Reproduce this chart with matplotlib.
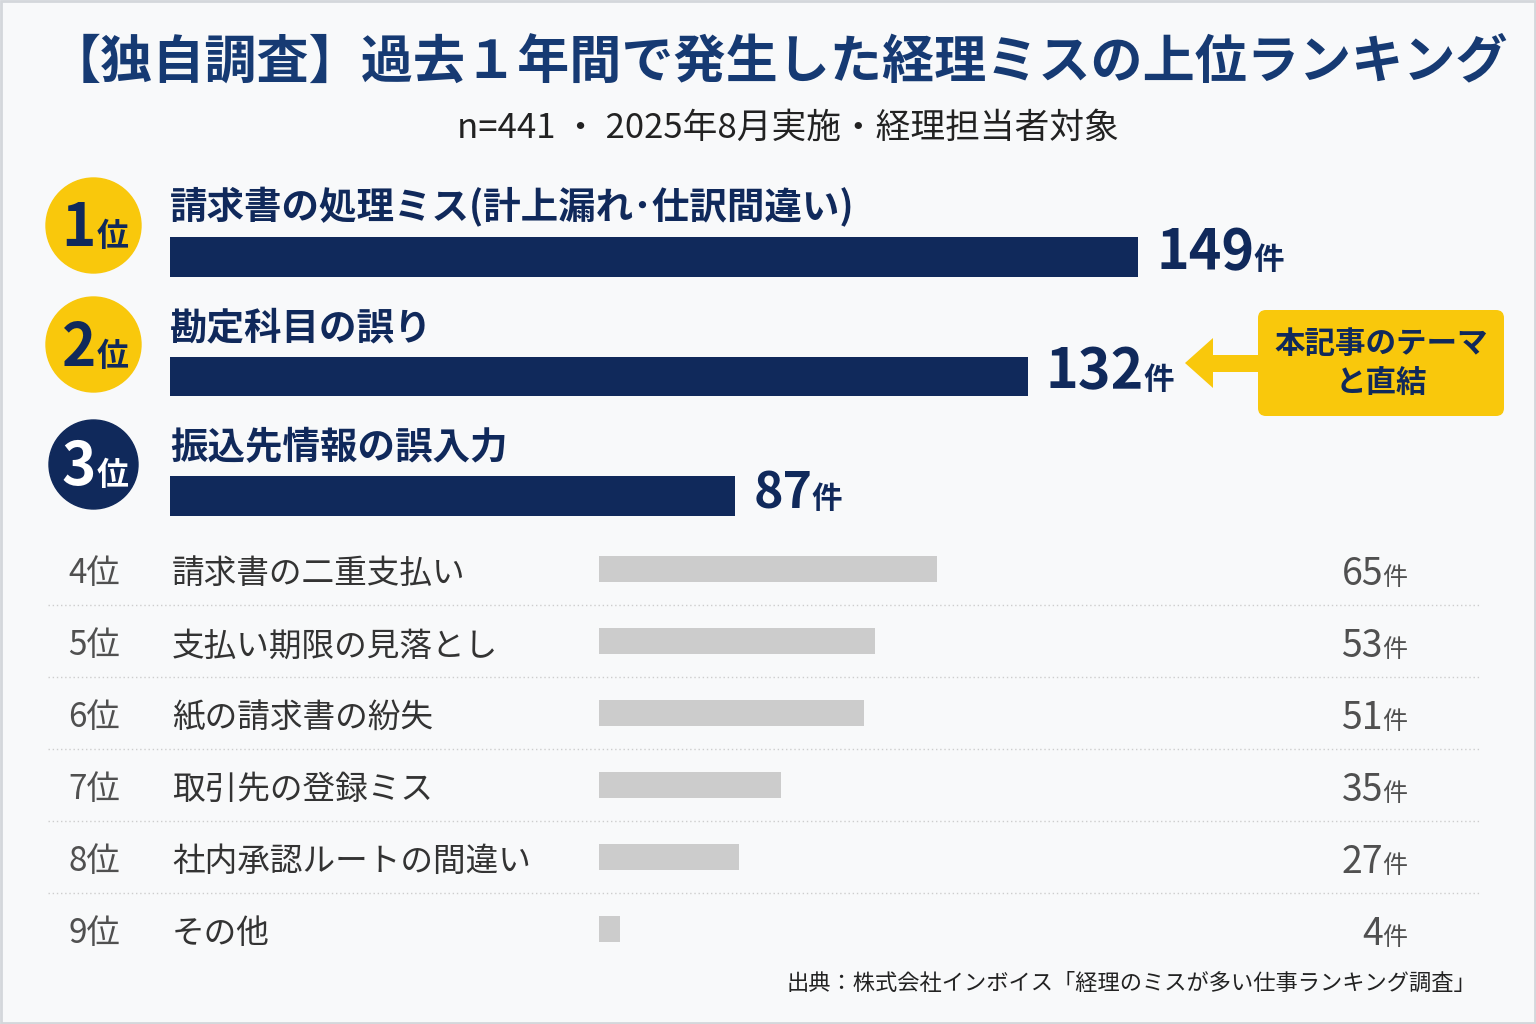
import matplotlib
matplotlib.use("Agg")
import matplotlib.pyplot as plt
from matplotlib import rcParams
from matplotlib.patches import FancyBboxPatch, Polygon, Rectangle
from matplotlib.transforms import blended_transform_factory

# 日本語フォント
rcParams['font.family'] = ['Noto Sans CJK JP', 'DejaVu Sans']

# データ
title = "【独自調査】過去１年間で発生した経理ミスの上位ランキング"
subtitle = "n=441 ・ 2025年8月実施・経理担当者対象"
source = "出典：株式会社インボイス「経理のミスが多い仕事ランキング調査」"
callout_text = "本記事のテーマ\nと直結"

top_ranks = ["1", "2", "3"]
top_labels = ["請求書の処理ミス(計上漏れ･仕訳間違い)", "勘定科目の誤り", "振込先情報の誤入力"]
top_values = [149, 132, 87]

rest_ranks = ["4", "5", "6", "7", "8", "9"]
rest_labels = ["請求書の二重支払い", "支払い期限の見落とし", "紙の請求書の紛失",
               "取引先の登録ミス", "社内承認ルートの間違い", "その他"]
rest_values = [65, 53, 51, 35, 27, 4]

# 色
BG = "#F8F9FA"
NAVY = "#10295B"
TITLE_NAVY = "#163A73"
YELLOW = "#F9C80C"
GREY_BAR = "#CCCCCC"
GREY_TXT = "#505050"

W, H = 1536, 1024
fig = plt.figure(figsize=(W / 100, H / 100), dpi=100)
fig.patch.set_facecolor(BG)

bg = fig.add_axes([0, 0, 1, 1])
bg.set_xlim(0, W)
bg.set_ylim(H, 0)
bg.axis("off")
bg.add_patch(Rectangle((1, 1), W - 2, H - 2, fill=False, edgecolor="#D4D7DB", lw=2))


def px_axes(x0, y0, x1, y1):
    ax = fig.add_axes([x0 / W, 1 - y1 / H, (x1 - x0) / W, (y1 - y0) / H])
    ax.axis("off")
    return ax


# タイトル
bg.text(778, 62, title, ha="center", va="center", fontsize=37.5, fontweight="bold", color=TITLE_NAVY)
bg.text(788, 128, subtitle, ha="center", va="center", fontsize=25, color="#222222")

# 上位3件
ax_top = px_axes(170, 197, 1278, 556)
ax_top.set_xlim(0, 170.5)
ax_top.set_ylim(2.5, -0.5)
ax_top.barh(range(len(top_values)), top_values, height=0.33, color=NAVY)
tr_top = blended_transform_factory(bg.transData, ax_top.transData)

big_sizes = [40, 40, 36]
for i, (rk, lab, v) in enumerate(zip(top_ranks, top_labels, top_values)):
    # ラベル
    bg.text(170, i - 0.31, lab, transform=tr_top, ha="left", va="baseline",
            fontsize=27, fontweight="bold", color=NAVY)
    # 順位バッジ
    fc = NAVY if i == 2 else YELLOW
    tc = "white" if i == 2 else NAVY
    d = 89 if i == 2 else 95
    bg.scatter([93], [i - 0.27], s=(d / 1.389) ** 2, color=fc, transform=tr_top, zorder=3)
    t = bg.text(96, i - 0.09, rk, transform=tr_top, ha="right", va="baseline",
                fontsize=42, fontweight="bold", color=tc, zorder=4)
    bg.annotate("位", xy=(1, i - 0.09), xycoords=(t, tr_top), xytext=(1, 0),
                textcoords="offset pixels", ha="left", va="baseline",
                fontsize=23, fontweight="bold", color=tc, zorder=4)
    # 件数
    num = ax_top.annotate(str(v), xy=(v, i), xytext=(18, -12), textcoords="offset pixels",
                          ha="left", va="baseline", fontsize=big_sizes[i],
                          fontweight="bold", color=NAVY, annotation_clip=False)
    ax_top.annotate("件", xy=(1, i), xycoords=(num, "data"), xytext=(-1, -12),
                    textcoords="offset pixels", ha="left", va="baseline",
                    fontsize=22, fontweight="bold", color=NAVY, annotation_clip=False)

# 吹き出し
bg.add_patch(FancyBboxPatch((1258, 310), 246, 106, boxstyle="round,pad=0,rounding_size=8",
                            fc=YELLOW, ec="none"))
bg.add_patch(Polygon([(1185, 363), (1213, 338), (1213, 355), (1260, 355),
                      (1260, 372), (1213, 372), (1213, 388)], closed=True, fc=YELLOW, ec="none"))
bg.text(1381, 364, callout_text, ha="center", va="center", fontsize=22, fontweight="bold",
        color=NAVY, linespacing=1.3)

# 4位以下
ax_bot = px_axes(599, 533, 1407, 965)
ax_bot.set_xlim(0, 155.4)
ax_bot.set_ylim(5.5, -0.5)
ax_bot.barh(range(len(rest_values)), rest_values, height=0.35, color=GREY_BAR)
tr_bot = blended_transform_factory(bg.transData, ax_bot.transData)

for k, (rk, lab, v) in enumerate(zip(rest_ranks, rest_labels, rest_values)):
    bg.text(68, k + 0.2, rk + "位", transform=tr_bot, ha="left", va="baseline",
            fontsize=24, color=GREY_TXT)
    bg.text(172, k + 0.2, lab, transform=tr_bot, ha="left", va="baseline",
            fontsize=23.5, color="#333333")
    ken = bg.text(1407, k + 0.22, "件", transform=tr_bot, ha="right", va="baseline",
                  fontsize=18, color=GREY_TXT)
    bg.annotate(str(v), xy=(0, k + 0.22), xycoords=(ken, tr_bot), xytext=(1, 0),
                textcoords="offset pixels", ha="right", va="baseline",
                fontsize=27, color=GREY_TXT)
    if k < len(rest_values) - 1:
        bg.plot([48, 1480], [k + 0.5, k + 0.5], transform=tr_bot, color="#CDCDCD",
                lw=1, linestyle=(0, (1, 2)))

# 出典
bg.text(1476, 983, source, ha="right", va="center", fontsize=16, color="#222222")

fig.savefig("out.png", dpi=100, facecolor=BG)
